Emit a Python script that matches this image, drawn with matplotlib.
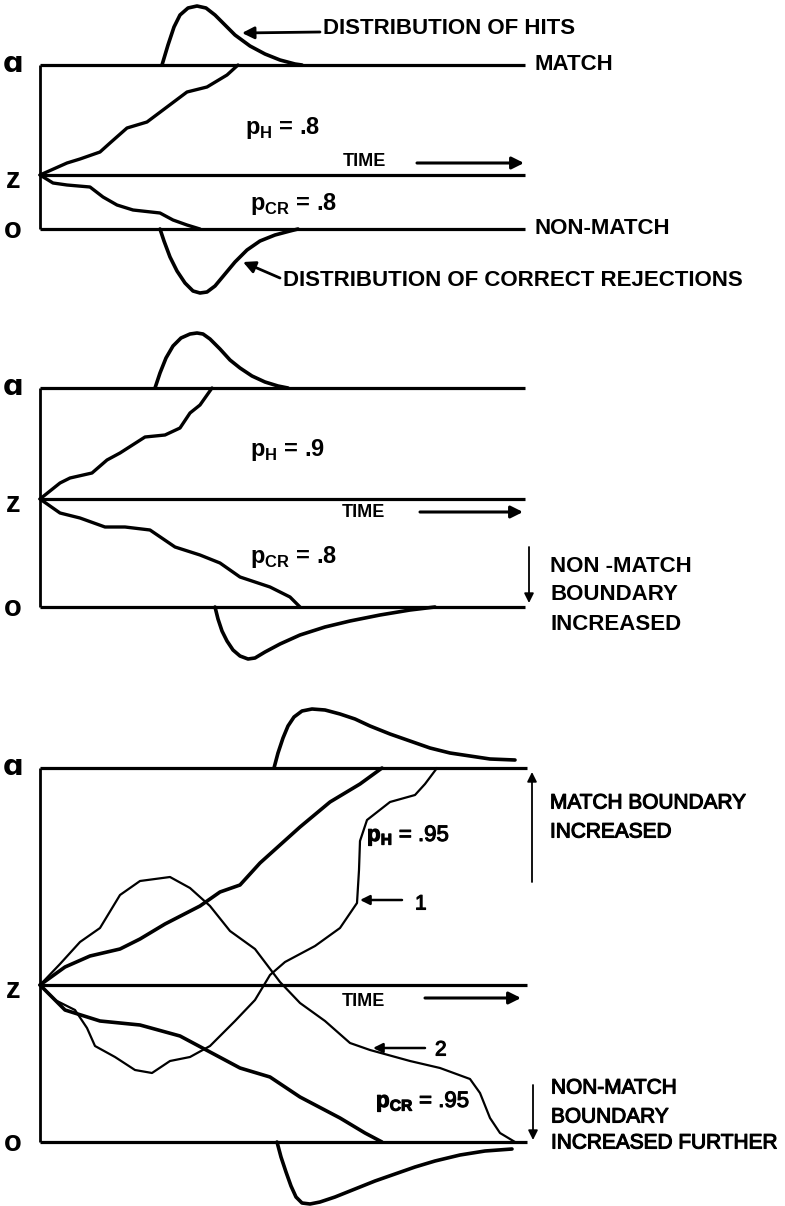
import matplotlib
matplotlib.use("Agg")
import matplotlib.pyplot as plt
from matplotlib import patheffects as pe

plt.rcParams['font.family'] = ['Liberation Sans', 'DejaVu Sans']
plt.rcParams['mathtext.fontset'] = 'custom'
plt.rcParams['mathtext.rm'] = 'Liberation Sans:bold'

# Boundaries of the three panels (evidence units, non-match boundary = 0)
bound_a = [164, 219, 374]
bound_z = [54, 108, 157]
time_end = [485, 485, 487]

# Panel 1 sample paths (time, evidence)
p1_hit_t = [0, 27, 40, 60, 70, 87, 107, 127, 147, 167, 187, 198]
p1_hit_e = [54, 66, 70, 77, 86, 101, 107, 122, 137, 142, 154, 164]
p1_cr_t = [0, 13, 27, 50, 63, 77, 93, 120, 133, 147, 160]
p1_cr_e = [54, 46, 44, 42, 32, 24, 19, 16, 9, 4, 0]

# Panel 1 response time distributions (height off the boundary)
p1_hd_t = [122, 128, 134, 140, 148, 157, 166, 175, 185, 195, 210, 225, 240, 255, 262]
p1_hd_h = [0, 20, 38, 50, 57, 59, 57, 50, 40, 30, 19, 11, 5, 1, 0]
p1_cd_t = [120, 124, 130, 137, 145, 153, 160, 167, 175, 185, 195, 207, 220, 235, 250, 258]
p1_cd_h = [0, 12, 28, 42, 54, 62, 64, 63, 57, 45, 33, 21, 12, 6, 2, 0]

# Panel 2
p2_hit_t = [0, 20, 30, 52, 67, 80, 105, 125, 140, 150, 160, 172]
p2_hit_e = [108, 124, 129, 134, 147, 154, 170, 172, 179, 194, 202, 219]
p2_cr_t = [0, 20, 40, 65, 85, 110, 135, 160, 180, 200, 230, 250, 260]
p2_cr_e = [108, 94, 89, 80, 80, 77, 60, 52, 44, 30, 20, 10, 0]
p2_hd_t = [115, 120, 126, 133, 141, 150, 157, 163, 170, 180, 190, 200, 212, 225, 238, 248]
p2_hd_h = [0, 15, 30, 42, 50, 54, 55, 54, 49, 39, 28, 20, 12, 6, 2, 0]
p2_cd_t = [175, 178, 182, 187, 193, 200, 208, 215, 225, 240, 260, 285, 310, 340, 370, 395]
p2_cd_h = [0, 12, 24, 34, 43, 49, 52, 51, 45, 37, 28, 20, 14, 8, 3, 0]

# Panel 3
p3_hit_t = [0, 25, 50, 80, 100, 125, 160, 180, 200, 220, 260, 290, 320, 342]
p3_hit_e = [157, 175, 186, 193, 203, 218, 236, 250, 257, 279, 315, 340, 358, 374]
p3_cr_t = [0, 25, 60, 100, 140, 170, 200, 230, 260, 300, 325, 342]
p3_cr_e = [157, 132, 121, 117, 106, 90, 74, 65, 45, 24, 9, 0]
p3_path1_t = [0, 15, 35, 47, 55, 75, 95, 112, 130, 150, 170, 195, 215, 230, 245, 275,
              300, 317, 319, 320, 327, 350, 375, 385, 397]
p3_path1_e = [157, 142, 132, 114, 96, 85, 72, 69, 81, 85, 96, 121, 142, 167, 180, 196,
              214, 239, 272, 301, 322, 340, 347, 358, 374]
p3_path2_t = [0, 20, 40, 60, 80, 100, 130, 150, 170, 190, 215, 240, 260, 285, 310, 330,
              370, 400, 430, 440, 450, 460, 475]
p3_path2_e = [157, 178, 200, 214, 247, 261, 265, 254, 236, 211, 193, 160, 139, 121, 99, 92,
              81, 74, 63, 49, 24, 9, 0]
p3_hd_t = [234, 238, 243, 248, 254, 262, 272, 285, 300, 315, 330, 350, 370, 390, 410, 430, 450, 475]
p3_hd_h = [0, 15, 30, 42, 51, 57, 59, 58, 54, 49, 42, 34, 27, 20, 15, 12, 9, 8]
p3_cd_t = [237, 241, 246, 251, 256, 262, 270, 280, 295, 315, 335, 355, 375, 395, 420, 445, 472]
p3_cd_h = [0, 15, 30, 44, 55, 61, 62, 60, 55, 47, 39, 32, 25, 19, 13, 9, 7]

W, H = 785, 1206
# pixel rows of each panel: top, bottom, row of the lower boundary
rows = [(0, 300, 229), (300, 690, 607), (690, 1206, 1142)]

fig = plt.figure(figsize=(W / 100, H / 100), dpi=100)
axes = []
for top, bottom, y0 in rows:
    ax = fig.add_axes([0, 1 - bottom / H, 1, (bottom - top) / H])
    ax.set_xlim(-40, W - 40)
    ax.set_ylim(y0 - bottom, y0 - top)
    ax.axis('off')
    axes.append(ax)

K = 'black'
bold = dict(fontweight='bold', fontsize=16, color=K, va='center', ha='left')
light = dict(fontweight='normal', fontsize=15, color=K, va='center', ha='left',
             path_effects=[pe.withStroke(linewidth=0.8, foreground=K)])


def frame(ax, i):
    a, z, T = bound_a[i], bound_z[i], time_end[i]
    ax.plot([0, 0], [0, a], color=K, lw=2.0, solid_capstyle='butt')
    for lev in (a, z, 0):
        ax.plot([0, T], [lev, lev], color=K, lw=2.3, solid_capstyle='butt')
    lab = dict(fontweight='bold', fontsize=21, ha='center', va='center', color=K)
    ax.text(-27, a + 1, 'ɑ', family=['DejaVu Sans'], **lab)
    ax.text(-27, z - 5, 'z', **lab)
    ax.text(-27, -1, 'o', **lab)


def arrow(ax, tail, head, lw=2.0, ms=18):
    ax.annotate('', xy=head, xytext=tail,
                arrowprops=dict(arrowstyle='-|>', lw=lw, color=K, mutation_scale=ms,
                                shrinkA=0, shrinkB=0))


def trace(ax, t, e, lw=2.4):
    ax.plot(t, e, color=K, lw=lw, solid_joinstyle='round', solid_capstyle='round')


def dists(ax, i, ht, hh, ct, ch):
    a = bound_a[i]
    trace(ax, ht, [a + h for h in hh], lw=2.6)
    trace(ax, ct, [-h for h in ch], lw=2.6)


# ---- panel 1
ax = axes[0]
frame(ax, 0)
trace(ax, p1_hit_t, p1_hit_e)
trace(ax, p1_cr_t, p1_cr_e)
dists(ax, 0, p1_hd_t, p1_hd_h, p1_cd_t, p1_cd_h)
ax.text(283, 201, 'DISTRIBUTION OF HITS', **bold)
arrow(ax, (280, 197), (202, 196))
ax.text(243, -52, 'DISTRIBUTION OF CORRECT REJECTIONS', **bold)
arrow(ax, (240, -49), (203, -33))
ax.text(495, 164, 'MATCH', **bold)
ax.text(495, 0, 'NON-MATCH', **bold)
ax.text(205, 101, r'$\mathrm{p}_\mathrm{H}$ = .8', **dict(bold, fontsize=17))
ax.text(210, 25, r'$\mathrm{p}_\mathrm{CR}$ = .8', **dict(bold, fontsize=17))
ax.text(303, 67, 'TIME', **dict(bold, fontsize=13))
arrow(ax, (377, 66), (484, 66), lw=2.2)

# ---- panel 2
ax = axes[1]
frame(ax, 1)
trace(ax, p2_hit_t, p2_hit_e)
trace(ax, p2_cr_t, p2_cr_e)
dists(ax, 1, p2_hd_t, p2_hd_h, p2_cd_t, p2_cd_h)
ax.text(210, 157, r'$\mathrm{p}_\mathrm{H}$ = .9', **dict(bold, fontsize=17))
ax.text(210, 50, r'$\mathrm{p}_\mathrm{CR}$ = .8', **dict(bold, fontsize=17))
ax.text(302, 94, 'TIME', **dict(bold, fontsize=13))
arrow(ax, (380, 95), (483, 95), lw=2.2)
arrow(ax, (489, 60), (489, 4), lw=1.3, ms=14)
ax.text(510, 40, 'NON -MATCH', **bold)
ax.text(510, 12, 'BOUNDARY', **bold)
ax.text(510, -18, 'INCREASED', **bold)

# ---- panel 3
ax = axes[2]
frame(ax, 2)
trace(ax, p3_hit_t, p3_hit_e, lw=2.6)
trace(ax, p3_cr_t, p3_cr_e, lw=2.6)
trace(ax, p3_path1_t, p3_path1_e, lw=1.6)
trace(ax, p3_path2_t, p3_path2_e, lw=1.6)
dists(ax, 2, p3_hd_t, p3_hd_h, p3_cd_t, p3_cd_h)
ax.text(327, 306, r'$\mathrm{p}_\mathrm{H}$ = .95', **dict(light, fontsize=16))
ax.text(336, 40, r'$\mathrm{p}_\mathrm{CR}$ = .95', **dict(light, fontsize=16))
ax.text(302, 141, 'TIME', **dict(bold, fontsize=13))
arrow(ax, (385, 144), (481, 144), lw=2.2)
arrow(ax, (362, 242), (320, 242), lw=1.8, ms=14)
ax.text(375, 238, '1', **light)
arrow(ax, (385, 94), (333, 94), lw=1.8, ms=14)
ax.text(395, 92, '2', **light)
arrow(ax, (492, 260), (492, 370), lw=1.3, ms=14)
ax.text(510, 339, 'MATCH BOUNDARY', **light)
ax.text(510, 310, 'INCREASED', **light)
arrow(ax, (493, 57), (493, 2), lw=1.3, ms=14)
ax.text(511, 54, 'NON-MATCH', **light)
ax.text(511, 25, 'BOUNDARY', **light)
ax.text(511, -1, 'INCREASED FURTHER', **light)

fig.savefig('out.png', dpi=100, facecolor='white')
